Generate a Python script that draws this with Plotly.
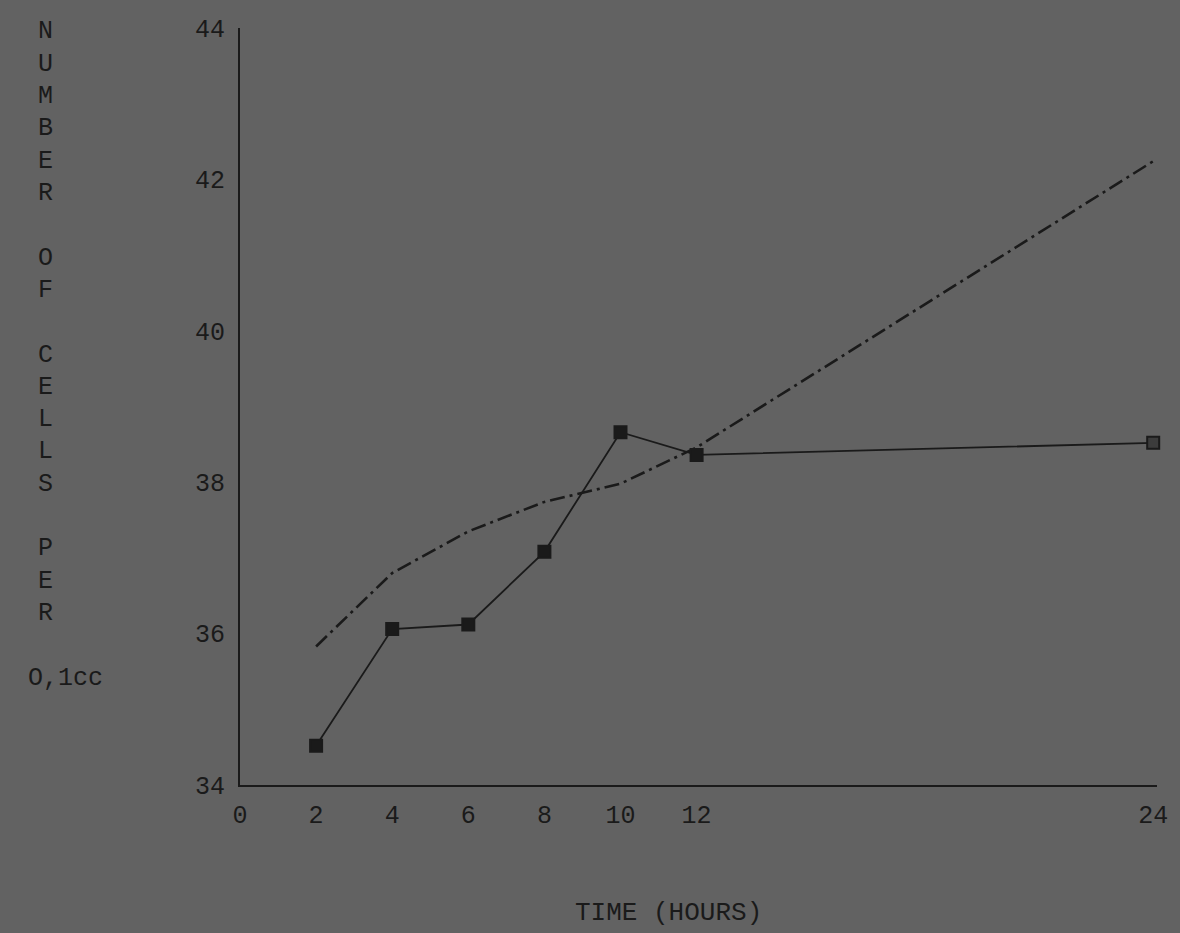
import plotly.graph_objects as go

# Data
hours = [2, 4, 6, 8, 10, 12, 24]
cells_solid = [34.52, 36.06, 36.12, 37.08, 38.66, 38.36, 38.52]
cells_dashdot = [35.83, 36.80, 37.35, 37.74, 37.98, 38.46, 42.24]

x_tickvals = [0, 2, 4, 6, 8, 10, 12, 24]
x_ticktext = ["0", "2", "4", "6", "8", "10", "12", "24"]
y_tickvals = [34, 36, 38, 40, 42, 44]
y_title_lines = ["N", "U", "M", "B", "E", "R", "", "O", "F", "", "C", "E", "L", "L", "S", "", "P", "E", "R", "", "O,1cc"]
x_title = "TIME (HOURS)"

BG = "#626262"
INK = "#1a1a1a"
FONT = "Liberation Mono, Courier New, monospace"
FS = 25

# layout geometry (pixels)
W, H = 1180, 933
L, R, T, B = 240, 18, 28, 148
plot_w = W - L - R
plot_h = H - T - B

fig = go.Figure()
fig.add_trace(go.Scatter(
    x=hours, y=cells_dashdot, mode="lines",
    line=dict(color=INK, width=2.6, dash="15px,5px,3px,5px"),
    showlegend=False, hoverinfo="skip"))
marker_fill = [INK] * (len(hours) - 1) + ["#3c3c3c"]
fig.add_trace(go.Scatter(
    x=hours, y=cells_solid, mode="lines+markers",
    line=dict(color=INK, width=1.8),
    marker=dict(symbol="square", size=12, color=marker_fill, line=dict(color=INK, width=2)),
    showlegend=False, hoverinfo="skip", cliponaxis=False))

fig.update_xaxes(
    range=[0, 24.1], tickvals=x_tickvals, ticktext=x_ticktext,
    showgrid=False, zeroline=False, showline=True, linecolor=INK, linewidth=2,
    ticks="", ticklabelstandoff=6,
    tickfont=dict(family=FONT, size=FS, color=INK))
fig.update_yaxes(
    range=[34, 44], tickvals=y_tickvals,
    showgrid=False, zeroline=False, showline=True, linecolor=INK, linewidth=2,
    ticks="", ticklabelstandoff=8,
    tickfont=dict(family=FONT, size=FS, color=INK))

# vertical stacked y-axis title
line_step = 32.3
for i, txt in enumerate(y_title_lines):
    if not txt:
        continue
    py = 32 + line_step * i
    px = 65 if len(txt) > 1 else 44
    fig.add_annotation(
        x=(px - L) / plot_w, y=(H - B - py) / plot_h,
        xref="paper", yref="paper", text=txt, showarrow=False,
        xanchor="center", yanchor="middle",
        font=dict(family=FONT, size=FS, color=INK))

fig.add_annotation(
    x=(671 - L) / plot_w, y=(H - B - 913) / plot_h,
    xref="paper", yref="paper", text=x_title, showarrow=False,
    xanchor="center", yanchor="middle",
    font=dict(family=FONT, size=FS + 1, color=INK))

fig.update_layout(
    width=W, height=H,
    margin=dict(l=L, r=R, t=T, b=B, pad=0),
    paper_bgcolor=BG, plot_bgcolor=BG,
    font=dict(family=FONT, color=INK))

fig.write_html("out.html", config={"displayModeBar": False},
               post_script="document.body.style.margin='0';document.body.style.background='%s';" % BG)
